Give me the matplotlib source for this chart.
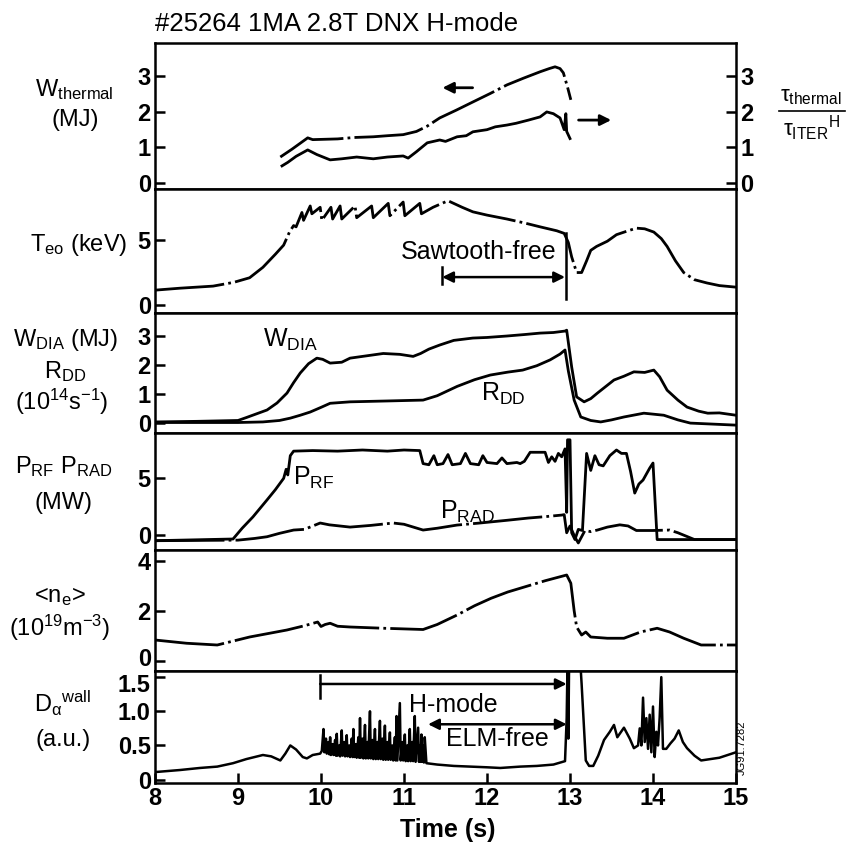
import matplotlib
matplotlib.use("Agg")
import matplotlib.pyplot as plt
import matplotlib.transforms as mtransforms
from matplotlib.lines import Line2D

# Fonts: Helvetica-like look
plt.rcParams["font.family"] = ["Liberation Sans", "DejaVu Sans"]
plt.rcParams["mathtext.fontset"] = "custom"
plt.rcParams["mathtext.rm"] = "Liberation Sans"
plt.rcParams["mathtext.it"] = "Liberation Sans"
plt.rcParams["mathtext.bf"] = "Liberation Sans:bold"

# === Data (time in s) ===

# Panel 1: W_thermal (MJ) and tau_thermal / tau_ITER^H
wth_t = [9.51, 9.65, 9.84, 9.9, 10.2, 10.4, 10.63, 10.8, 10.99, 11.15, 11.28, 11.43,
         11.63, 11.83, 12.04, 12.24, 12.44, 12.64, 12.75, 12.82, 12.88, 12.92, 12.97, 13.01]
wth_v = [0.73, 0.95, 1.27, 1.22, 1.24, 1.28, 1.3, 1.33, 1.36, 1.45, 1.6, 1.83,
         2.05, 2.28, 2.52, 2.76, 2.95, 3.13, 3.22, 3.27, 3.22, 3.1, 2.7, 2.34]

tau_t = [9.53, 9.6, 9.7, 9.84, 9.95, 10.11, 10.25, 10.43, 10.63, 10.8, 10.99, 11.05,
         11.15, 11.28, 11.43, 11.5, 11.64, 11.75, 11.83, 12.0, 12.1, 12.24, 12.35, 12.5,
         12.64, 12.72, 12.8, 12.88, 12.93, 12.95, 12.96, 13.0]
tau_v = [0.48, 0.58, 0.75, 0.93, 0.8, 0.65, 0.68, 0.73, 0.68, 0.73, 0.76, 0.7,
         0.88, 1.13, 1.21, 1.17, 1.3, 1.33, 1.44, 1.5, 1.58, 1.63, 1.68, 1.77,
         1.86, 2.0, 1.95, 1.83, 1.5, 1.95, 1.45, 1.25]

# Panel 2: central electron temperature T_eo (keV)
te_t = [8.0, 8.3, 8.7, 8.95, 9.14, 9.3, 9.45, 9.55, 9.62, 9.67, 9.7, 9.77, 9.79,
        9.87, 9.89, 9.99, 10.01, 10.12, 10.14, 10.23, 10.25, 10.41, 10.43, 10.61, 10.63,
        10.81, 10.83, 10.99, 11.01, 11.19, 11.21, 11.35, 11.53, 11.7, 11.83, 12.0,
        12.24, 12.45, 12.64, 12.84, 12.93, 12.98, 13.02, 13.08, 13.14, 13.2, 13.25,
        13.32, 13.45, 13.56, 13.7, 13.8, 13.9, 14.01, 14.1, 14.17, 14.27, 14.37,
        14.5, 14.65, 14.8, 15.0]
te_v = [1.15, 1.3, 1.46, 1.75, 2.1, 2.9, 3.9, 4.6, 5.6, 6.1, 6.0, 7.1, 6.5,
        7.6, 7.0, 7.5, 6.5, 7.5, 6.6, 7.6, 6.6, 7.6, 6.7, 7.6, 6.7,
        7.8, 6.85, 7.9, 6.85, 7.8, 7.0, 7.5, 8.0, 7.5, 7.15, 6.9,
        6.6, 6.3, 6.0, 5.7, 5.5, 4.8, 3.7, 2.5, 2.5, 3.4, 4.2,
        4.5, 4.9, 5.4, 5.7, 5.9, 5.85, 5.6, 5.1, 4.5, 3.4, 2.5,
        1.95, 1.7, 1.5, 1.38]

# Panel 3: W_DIA (MJ) and neutron rate R_DD (1e14 /s)
wdia_t = [8.0, 8.5, 9.0, 9.1, 9.35, 9.47, 9.59, 9.67, 9.75, 9.85, 9.95, 10.02, 10.11,
          10.25, 10.35, 10.5, 10.75, 10.95, 11.11, 11.2, 11.3, 11.43, 11.6, 11.83, 12.0,
          12.24, 12.45, 12.64, 12.8, 12.94, 12.96, 13.02, 13.08, 13.17, 13.25, 13.33,
          13.53, 13.65, 13.77, 13.9, 14.01, 14.08, 14.17, 14.3, 14.41, 14.55, 14.66,
          14.8, 15.0]
wdia_v = [0.05, 0.07, 0.1, 0.2, 0.46, 0.7, 1.04, 1.4, 1.73, 2.05, 2.24, 2.2, 2.07,
          2.1, 2.24, 2.3, 2.4, 2.37, 2.3, 2.4, 2.55, 2.69, 2.85, 2.93, 2.95,
          3.0, 3.05, 3.1, 3.12, 3.17, 3.2, 1.94, 0.91, 0.74, 0.85, 1.04,
          1.49, 1.62, 1.77, 1.75, 1.83, 1.6, 1.14, 0.8, 0.56, 0.42, 0.35,
          0.36, 0.28]

rdd_t = [8.0, 9.0, 9.3, 9.5, 9.63, 9.75, 9.87, 10.0, 10.11, 10.35, 10.8, 11.23, 11.4,
         11.64, 11.85, 12.04, 12.25, 12.43, 12.6, 12.76, 12.88, 12.94, 12.98, 13.05,
         13.13, 13.25, 13.37, 13.5, 13.65, 13.89, 14.13, 14.3, 14.45, 15.0]
rdd_v = [0.03, 0.03, 0.05, 0.1, 0.18, 0.28, 0.39, 0.55, 0.69, 0.74, 0.77, 0.8, 0.95,
         1.27, 1.5, 1.66, 1.76, 1.83, 1.98, 2.18, 2.38, 2.52, 1.8, 0.8,
         0.22, 0.1, 0.05, 0.12, 0.22, 0.35, 0.28, 0.12, 0.01, -0.06]

# Panel 4: RF power and radiated power (MW)
prf_t = [8.0, 8.94, 9.05, 9.18, 9.35, 9.45, 9.51, 9.55, 9.58, 9.6, 9.63, 9.67, 9.9,
         10.2, 10.5, 10.8, 11.0, 11.19, 11.23, 11.3, 11.36, 11.4, 11.47, 11.53, 11.58,
         11.68, 11.74, 11.8, 11.9, 11.95, 12.0, 12.12, 12.18, 12.24, 12.36, 12.4,
         12.45, 12.52, 12.7, 12.74, 12.78, 12.82, 12.86, 12.9, 12.94, 12.96, 12.97,
         13.0, 13.02, 13.06, 13.1, 13.15, 13.2, 13.25, 13.3, 13.35, 13.4, 13.48,
         13.56, 13.62, 13.68, 13.73, 13.78, 13.83, 13.88, 13.96, 14.0, 14.05, 15.0]
prf_v = [-0.5, -0.35, 0.6, 1.6, 3.1, 4.0, 4.6, 5.0, 5.8, 5.3, 7.0, 7.4, 7.45,
         7.4, 7.5, 7.4, 7.5, 7.45, 6.3, 6.2, 7.0, 6.2, 6.3, 7.1, 6.2,
         6.3, 7.2, 6.3, 6.2, 7.0, 6.4, 6.3, 6.8, 6.3, 6.4, 6.3,
         6.5, 7.3, 7.3, 6.4, 6.9, 6.5, 7.2, 6.9, 7.6, 2.0, 8.4,
         8.4, 0.2, -0.4, 0.5, 0.4, 7.2, 5.7, 7.0, 6.2, 6.1, 7.0,
         7.5, 7.2, 7.2, 5.6, 3.7, 4.5, 4.85, 5.9, 6.35, -0.4, -0.4]

prad_t = [8.0, 9.0, 9.2, 9.35, 9.5, 9.67, 9.8, 9.99, 10.1, 10.35, 10.6, 10.87, 11.0,
          11.23, 11.4, 11.64, 11.9, 12.24, 12.5, 12.7, 12.9, 12.93, 12.96, 13.0,
          13.06, 13.1, 13.18, 13.25, 13.33, 13.45, 13.6, 13.7, 13.8, 14.0, 14.2,
          14.3, 14.4, 14.5, 15.0]
prad_v = [-0.5, -0.45, -0.3, -0.15, 0.15, 0.44, 0.5, 1.06, 0.9, 0.7, 0.85, 1.06, 0.95,
          0.44, 0.6, 0.88, 1.05, 1.3, 1.5, 1.62, 1.76, 1.8, 0.2, 0.8,
          -0.2, -0.7, 0.4, 0.3, 0.44, 0.7, 0.9, 0.8, 0.4, 0.4, 0.44,
          0.2, -0.1, -0.4, -0.4]

# Panel 5: line-averaged density <n_e> (1e19 m^-3)
ne_t = [8.0, 8.38, 8.75, 9.14, 9.59, 9.8, 9.96, 10.0, 10.05, 10.11, 10.2, 10.35, 10.75,
        11.23, 11.4, 11.64, 11.85, 12.05, 12.25, 12.45, 12.7, 12.96, 13.01, 13.05,
        13.08, 13.14, 13.19, 13.25, 13.45, 13.65, 13.85, 14.05, 14.2, 14.37, 14.58, 15.0]
ne_v = [0.83, 0.7, 0.63, 0.95, 1.23, 1.4, 1.55, 1.37, 1.45, 1.5, 1.38, 1.35, 1.3,
        1.25, 1.45, 1.83, 2.2, 2.5, 2.75, 2.95, 3.2, 3.43, 3.1, 2.0,
        1.35, 1.03, 1.15, 0.95, 0.9, 0.9, 1.15, 1.3, 1.15, 0.9, 0.63, 0.63]

# Panel 6: D-alpha at the wall (a.u.), ELMs between 10 and 11.3 s
da_t = [8.0, 8.3, 8.54, 8.75, 8.94, 9.1, 9.3, 9.4, 9.51, 9.57, 9.63, 9.7, 9.78, 9.83,
        9.9, 9.99,
        10.01, 10.03, 10.04, 10.06, 10.07, 10.09, 10.1, 10.11, 10.12, 10.14, 10.15,
        10.17, 10.18, 10.19, 10.2, 10.22, 10.23, 10.25, 10.26, 10.28, 10.29, 10.31,
        10.32, 10.34, 10.35, 10.37, 10.38, 10.39, 10.4, 10.42, 10.43, 10.45, 10.46,
        10.47, 10.48, 10.5, 10.51, 10.53, 10.54, 10.56, 10.57, 10.59, 10.6, 10.62,
        10.63, 10.65, 10.66, 10.68, 10.69, 10.71, 10.72, 10.74, 10.75, 10.77, 10.78,
        10.8, 10.81, 10.83, 10.84, 10.86, 10.87, 10.89, 10.9, 10.91, 10.92, 10.95,
        10.96, 10.98, 10.99, 11.01, 11.02, 11.04, 11.05, 11.07, 11.08, 11.1, 11.11,
        11.13, 11.14, 11.17, 11.18, 11.19, 11.2, 11.21, 11.22, 11.23, 11.24, 11.25,
        11.27,
        11.4, 11.6, 11.8, 12.0, 12.16, 12.4, 12.6, 12.8, 12.94, 12.96, 12.97, 12.98,
        12.99, 13.12, 13.14, 13.19, 13.23, 13.28, 13.34, 13.41, 13.48, 13.53, 13.57,
        13.65, 13.72, 13.77, 13.82, 13.84, 13.86, 13.88, 13.9, 13.92, 13.94, 13.96,
        13.98, 14.0, 14.02, 14.04, 14.06, 14.08, 14.1, 14.12, 14.16, 14.21, 14.26,
        14.31, 14.36, 14.41, 14.5, 14.58, 14.8, 15.0]
da_v = [0.11, 0.14, 0.17, 0.19, 0.24, 0.3, 0.36, 0.34, 0.28, 0.38, 0.5, 0.44, 0.33, 0.31,
        0.36, 0.38,
        0.42, 0.74, 0.4, 0.6, 0.38, 0.55, 0.37, 0.62, 0.36, 0.52, 0.36,
        0.58, 0.35, 0.67, 0.35, 0.5, 0.34, 0.72, 0.35, 0.55, 0.34, 0.65,
        0.34, 0.5, 0.33, 0.6, 0.33, 0.74, 0.33, 0.52, 0.32, 0.62, 0.32,
        0.9, 0.32, 0.6, 0.31, 0.8, 0.31, 0.55, 0.31, 1.0, 0.31, 0.58,
        0.3, 0.74, 0.3, 0.55, 0.3, 0.86, 0.3, 0.6, 0.29, 0.79, 0.29,
        0.55, 0.29, 0.69, 0.29, 0.5, 0.28, 0.62, 0.28, 0.93, 0.28, 1.12,
        0.28, 0.55, 0.28, 0.66, 0.27, 0.5, 0.27, 0.74, 0.27, 0.55, 0.27,
        0.93, 0.26, 0.76, 0.26, 0.5, 0.26, 0.66, 0.26, 0.5, 0.25, 0.62,
        0.24,
        0.22, 0.2, 0.19, 0.18, 0.17, 0.19, 0.2, 0.22, 0.27, 0.9, 1.7, 0.6,
        1.8, 1.8, 1.4, 0.28, 0.2, 0.2, 0.35, 0.58, 0.7, 0.8, 0.62,
        0.76, 0.6, 0.46, 0.5, 0.75, 0.5, 1.2, 0.55, 0.9, 0.45, 0.95,
        0.4, 1.07, 0.33, 0.7, 0.5, 0.9, 1.5, 0.45, 0.45, 0.53, 0.6,
        0.72, 0.55, 0.46, 0.35, 0.28, 0.32, 0.4]

# Tick values for each panel
ticks_w = [0, 1, 2, 3]
ticks_te = [0, 5]
ticks_dia = [0, 1, 2, 3]
ticks_p = [0, 5]
ticks_ne = [0, 2, 4]
ticks_da = [0, 0.5, 1.0, 1.5]
ticks_da_labels = ["0", "0.5", "1.0", "1.5"]
ticks_time = [8, 9, 10, 11, 12, 13, 14, 15]

# === Figure layout: six stacked panels sharing the time axis ===
W, H = 848, 849
fig = plt.figure(figsize=(W / 100, H / 100), dpi=100)

TICK_FS = 17
TEXT_FS = 18
LABEL_FS = 17

left, right = 155, 736
# (top, bottom) pixel rows of each panel
rows = [(43, 189), (189, 313), (313, 433), (433, 550), (550, 671), (671, 783)]
ylims = [(-0.17, 3.94), (-0.6, 8.9), (-0.33, 3.79), (-1.32, 9.0), (-0.41, 4.43), (-0.05, 1.59)]

axs = []
for (top, bot), yl in zip(rows, ylims):
    ax = fig.add_axes([left / W, 1 - bot / H, (right - left) / W, (bot - top) / H])
    ax.set_xlim(8, 15)
    ax.set_ylim(*yl)
    for s in ax.spines.values():
        s.set_linewidth(1.8)
    ax.tick_params(direction="in", length=7, width=1.8, labelsize=TICK_FS, pad=3)
    ax.tick_params(axis="x", bottom=False, labelbottom=False)
    axs.append(ax)

lw = 2.0
dashdot = (0, (25, 1.5, 1, 1.5))

# --- Panel 1 ---
ax = axs[0]
ax.plot(wth_t, wth_v, color="black", lw=lw, ls=dashdot)
ax.plot(tau_t, tau_v, color="black", lw=lw)
ax.set_yticks(ticks_w)
ax.tick_params(axis="y", right=True, labelright=True)
ax.annotate("", xy=(11.43, 2.68), xytext=(11.86, 2.68),
            arrowprops=dict(arrowstyle="-|>", lw=2, color="black", mutation_scale=16))
ax.annotate("", xy=(13.53, 1.77), xytext=(13.07, 1.77),
            arrowprops=dict(arrowstyle="-|>", lw=2, color="black", mutation_scale=16))

# --- Panel 2 ---
ax = axs[1]
ax.plot(te_t, te_v, color="black", lw=lw, ls=dashdot)
ax.set_yticks(ticks_te)
ax.plot([12.95, 12.95], [5.5, 0.5], color="black", lw=1.8)
ax.plot([11.46, 11.46], [1.6, 2.9], color="black", lw=1.8)
ax.annotate("", xy=(12.94, 2.15), xytext=(11.46, 2.15),
            arrowprops=dict(arrowstyle="<|-|>", lw=1.8, color="black", mutation_scale=16,
                            shrinkA=0, shrinkB=0))
ax.text(11.9, 4.1, "Sawtooth-free", fontsize=TEXT_FS, ha="center", va="center")

# --- Panel 3 ---
ax = axs[2]
ax.plot(wdia_t, wdia_v, color="black", lw=lw)
ax.plot(rdd_t, rdd_v, color="black", lw=lw)
ax.set_yticks(ticks_dia)
ax.text(9.3, 2.85, r"W$_{\rm DIA}$", fontsize=TEXT_FS, ha="left", va="center")
ax.text(11.93, 1.0, r"R$_{\rm DD}$", fontsize=TEXT_FS, ha="left", va="center")

# --- Panel 4 ---
ax = axs[3]
ax.plot(prf_t, prf_v, color="black", lw=lw)
ax.plot(prad_t, prad_v, color="black", lw=lw, ls=dashdot)
ax.set_yticks(ticks_p)
ax.text(9.66, 5.0, r"P$_{\rm RF}$", fontsize=TEXT_FS, ha="left", va="center")
ax.text(11.43, 2.0, r"P$_{\rm RAD}$", fontsize=TEXT_FS, ha="left", va="center")

# --- Panel 5 ---
ax = axs[4]
ax.plot(ne_t, ne_v, color="black", lw=lw, ls=dashdot)
ax.set_yticks(ticks_ne)

# --- Panel 6 ---
ax = axs[5]
ax.plot(da_t, da_v, color="black", lw=lw * 0.9)
ax.set_yticks(ticks_da)
ax.set_yticklabels(ticks_da_labels)
ax.set_xticks(ticks_time)
ax.tick_params(axis="x", bottom=True, labelbottom=True, labelsize=TICK_FS)
ax.plot([9.99, 9.99], [1.2, 1.53], color="black", lw=1.8)
ax.annotate("", xy=(12.96, 1.4), xytext=(9.99, 1.4),
            arrowprops=dict(arrowstyle="-|>", lw=1.8, color="black", mutation_scale=16,
                            shrinkA=0, shrinkB=0))
ax.annotate("", xy=(12.96, 0.81), xytext=(11.29, 0.81),
            arrowprops=dict(arrowstyle="<|-|>", lw=1.8, color="black", mutation_scale=16,
                            shrinkA=0, shrinkB=0))
ax.text(11.6, 1.09, "H-mode", fontsize=TEXT_FS, ha="center", va="center")
ax.text(12.13, 0.6, "ELM-free", fontsize=TEXT_FS, ha="center", va="center")

# Bold tick labels everywhere
for ax in axs:
    for lab in ax.get_yticklabels() + ax.get_xticklabels():
        lab.set_fontweight("bold")

# Nudge the two crowded labels at the panel 5 / panel 6 boundary apart
up = mtransforms.ScaledTranslation(0, 3 / 72, fig.dpi_scale_trans)
down = mtransforms.ScaledTranslation(0, -4 / 72, fig.dpi_scale_trans)
lab0 = axs[4].get_yticklabels()[0]
lab0.set_transform(lab0.get_transform() + up)
lab15 = axs[5].get_yticklabels()[-1]
lab15.set_transform(lab15.get_transform() + down)

# === Figure-level texts ===
def fy(py):
    return 1 - py / H

fig.text(155 / W, fy(31), "#25264 1MA 2.8T DNX H-mode", fontsize=18.5, ha="left", va="baseline")
fig.text(448 / W, fy(830), "Time (s)", fontsize=TEXT_FS, fontweight="bold", ha="center", va="center")

labels = [
    (74, 90, r"W$_{\rm thermal}$"), (75, 120, "(MJ)"),
    (79, 245, r"T$_{\rm eo}$ (keV)"),
    (66, 340, r"W$_{\rm DIA}$ (MJ)"), (65, 372, r"R$_{\rm DD}$"), (62, 402, r"(10$^{14}$s$^{-1}$)"),
    (64, 467, r"P$_{\rm RF}$ P$_{\rm RAD}$"), (64, 503, "(MW)"),
    (60, 597, r"<n$_{\rm e}$>"), (60, 628, r"(10$^{19}$m$^{-3}$)"),
    (63, 703, r"D$_{\alpha}$$^{\rm wall}$"), (63, 740, "(a.u.)"),
]
for px, py, s in labels:
    fig.text(px / W, fy(py), s, fontsize=LABEL_FS, ha="center", va="center")

# Right-hand label: tau_thermal / tau_ITER^H
fig.text(811 / W, fy(97), r"$\tau_{\rm thermal}$", fontsize=16, ha="center", va="center")
fig.add_artist(Line2D([779 / W, 845 / W], [fy(111), fy(111)], color="black", lw=1.2))
fig.text(811 / W, fy(128), r"$\tau_{\rm ITER}$$^{\rm H}$", fontsize=16, ha="center", va="center")

fig.text(742 / W, fy(748), "JG91.7282", fontsize=8, rotation=90, ha="center", va="center")

fig.savefig("out.png", dpi=100)
